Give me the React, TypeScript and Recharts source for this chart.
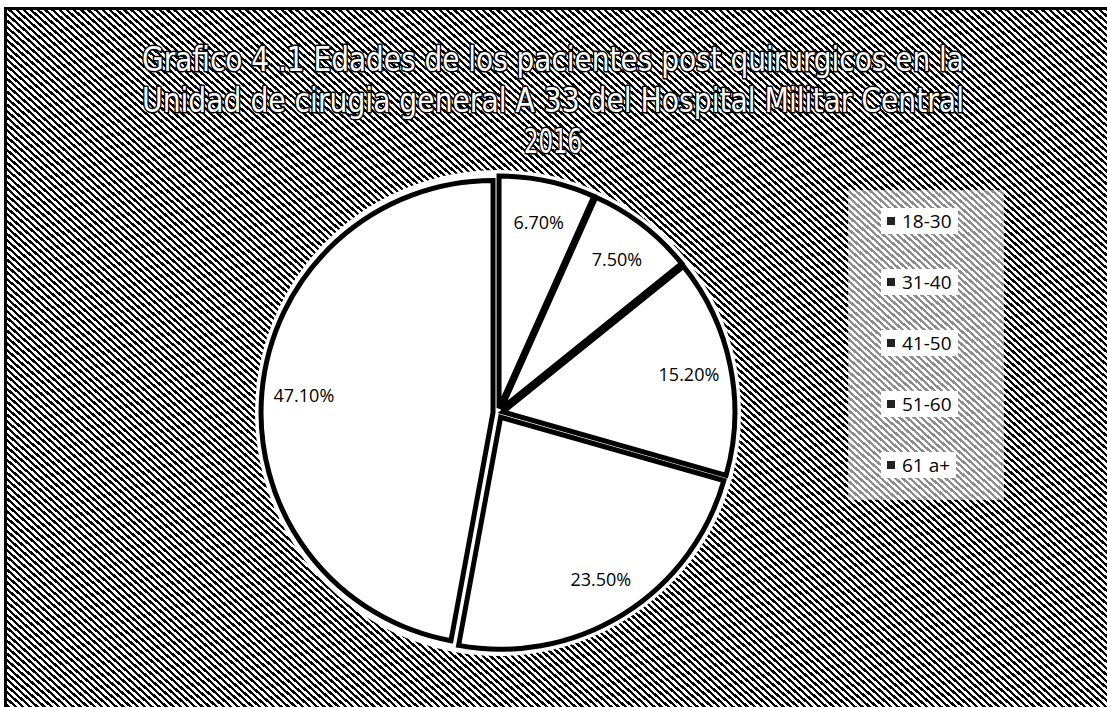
import React from 'react';
import { PieChart, Pie, Cell, Sector, Legend } from 'recharts';

const categories = ['18-30', '31-40', '41-50', '51-60', '61 a+'];
const percentages = [6.7, 7.5, 15.2, 23.5, 47.1];
const titleLines = [
  'Grafico 4 .1 Edades de los pacientes post quirurgicos en la',
  'Unidad de cirugia general A 33 del Hospital Militar Central',
  '2016',
];

const data = categories.map((name, i) => ({ name, value: percentages[i] }));
const halo = [{ name: 'halo', value: 100 }];

const RADIAN = Math.PI / 180;
const hatch = 'repeating-linear-gradient(42deg, #000 0px, #000 2.3px, #fff 2.3px, #fff 4.8px)';

// each slice pulled a few px out along its mid angle
const ExplodedSlice = (props: any) => {
  const off = 5;
  const dx = Math.cos(-props.midAngle * RADIAN) * off;
  const dy = Math.sin(-props.midAngle * RADIAN) * off;
  return <Sector {...props} cx={props.cx + dx} cy={props.cy + dy} />;
};

const renderLabel = (props: any) => {
  const { cx, cy, midAngle, outerRadius, value } = props;
  const r = outerRadius * 0.84;
  const x = cx + r * Math.cos(-midAngle * RADIAN);
  const y = cy + r * Math.sin(-midAngle * RADIAN);
  return (
    <text x={x} y={y} textAnchor="middle" dominantBaseline="central"
      fill="#000" fontSize={18} fontFamily="'Open Sans', sans-serif">
      {value.toFixed(2)}%
    </text>
  );
};

const LegendBox = () => (
  <div style={{ width: 156, height: 310, background: 'rgba(255,255,255,0.55)', position: 'relative' }}>
    {categories.map((c, i) => (
      <div key={c} style={{
        position: 'absolute', left: 33, top: 18 + i * 61, height: 26, padding: '0 6px',
        background: '#fff', display: 'flex', alignItems: 'center',
        fontFamily: "'Open Sans', sans-serif", fontSize: 19, color: '#000',
      }}>
        <span style={{ width: 8, height: 8, background: '#222', marginRight: 7, display: 'inline-block' }} />
        {c}
      </div>
    ))}
  </div>
);

export default function App() {
  return (
    <div style={{ position: 'fixed', left: 0, top: 0, width: 1107, height: 707, background: hatch, overflow: 'hidden' }}>
      <div style={{ position: 'absolute', left: 0, top: 0, width: 1107, height: 7, background: '#fff' }} />
      <div style={{ position: 'absolute', left: 0, top: 0, width: 4, height: 707, background: '#fff' }} />
      <div style={{ position: 'absolute', left: 4, top: 7, width: 1110, height: 710, borderLeft: '3px solid #000', borderTop: '3px solid #000' }} />
      <svg width={1107} height={170} style={{ position: 'absolute', left: 0, top: 0 }}>
        {titleLines.map((t, i) => (
          <text key={i} x={553} y={[71, 112, 153][i]} textAnchor="middle"
            textLength={i < 2 ? 822 : 58} lengthAdjust="spacingAndGlyphs"
            fontFamily="'Liberation Sans Narrow', 'DejaVu Sans Condensed', sans-serif" fontSize={34}
            fill="#fff" stroke="#000" strokeWidth={3} paintOrder="stroke" strokeLinejoin="round">
            {t}
          </text>
        ))}
      </svg>
      <div style={{ position: 'absolute', left: 0, top: 0 }}>
        <PieChart width={1107} height={707}>
          <Pie data={halo} dataKey="value" cx={493} cy={408} outerRadius={243}
            fill="#fff" stroke="none" legendType="none" isAnimationActive={false} />
          <Pie data={data} dataKey="value" nameKey="name" cx={493} cy={408} outerRadius={232}
            startAngle={90} endAngle={-270} stroke="#000" strokeWidth={5}
            shape={ExplodedSlice} label={renderLabel} labelLine={false} isAnimationActive={false}>
            {data.map((d) => <Cell key={d.name} fill="#fff" />)}
          </Pie>
          <Legend content={LegendBox} wrapperStyle={{ left: 848, top: 190, width: 156, height: 310 }} />
        </PieChart>
      </div>
    </div>
  );
}
